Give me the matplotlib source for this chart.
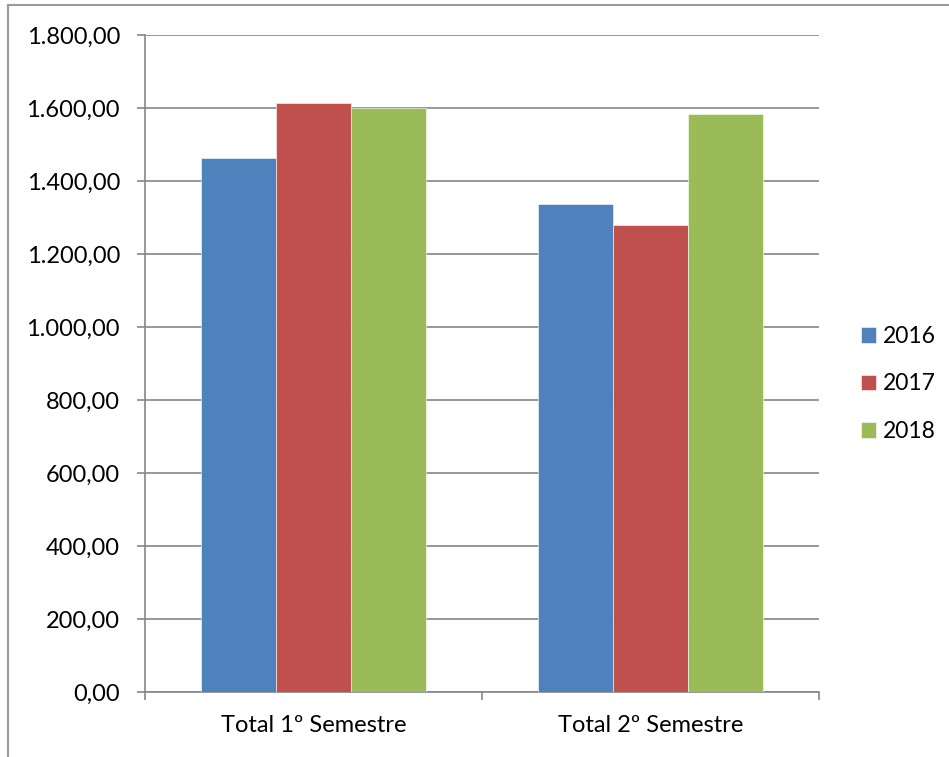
import numpy as np
import matplotlib.pyplot as plt
from matplotlib.ticker import FuncFormatter, MultipleLocator, FixedLocator
from matplotlib.lines import Line2D

# dados do gráfico
categorias = ["Total 1º Semestre", "Total 2º Semestre"]
anos = ["2016", "2017", "2018"]
v2016 = [1463, 1337]
v2017 = [1613, 1281]
v2018 = [1599, 1584]
cores = ["#4F81BD", "#C0504D", "#9BBB59"]

plt.rcParams['font.family'] = ['Lato', 'DejaVu Sans']

fig = plt.figure(figsize=(9.49, 7.57), dpi=100)
ax = fig.add_axes([145/949, 1 - 692.3/757, (819 - 145)/949, (692.3 - 35)/757])

x = np.arange(len(categorias))
w = 1 / 4.5
for i, (vals, ano) in enumerate(zip([v2016, v2017, v2018], anos)):
    ax.bar(x + (i - 1) * w, vals, width=w, color=cores[i], label=ano, zorder=3,
           edgecolor='white', linewidth=0.4)

ax.set_xlim(-0.5, 1.5)
ax.set_ylim(0, 1800)
ax.yaxis.set_major_locator(MultipleLocator(200))
fmt = lambda v, p: "{:,.2f}".format(v).replace(",", "X").replace(".", ",").replace("X", ".")
ax.yaxis.set_major_formatter(FuncFormatter(fmt))
ax.grid(axis='y', color='#868686', linewidth=1.2, zorder=0)

ax.set_xticks(x)
ax.set_xticklabels(categorias)
ax.xaxis.set_minor_locator(FixedLocator([-0.5, 0.5, 1.5]))
ax.tick_params(axis='x', which='major', length=0, pad=16, labelsize=17)
ax.tick_params(axis='x', which='minor', length=6, width=1.2, color='#868686')
ax.tick_params(axis='y', length=6, width=1.2, color='#868686', pad=12, labelsize=17)

for s in ['top', 'right']:
    ax.spines[s].set_visible(False)
for s in ['left', 'bottom']:
    ax.spines[s].set_color('#868686')
    ax.spines[s].set_linewidth(1.2)

leg = fig.legend(loc='center left', bbox_to_anchor=(840/949, 1 - 384/757), frameon=False,
                 fontsize=16.5, handlelength=0.65, handleheight=0.65, handletextpad=0.3,
                 labelspacing=1.16)

# moldura do gráfico
fig.add_artist(Line2D([8/949, 1], [1 - 5/757, 1 - 5/757], transform=fig.transFigure,
                      color='#9a9a9a', linewidth=1.5))
fig.add_artist(Line2D([8/949, 8/949], [0, 1 - 5/757], transform=fig.transFigure,
                      color='#9a9a9a', linewidth=1.5))

fig.savefig("out.png", dpi=100)
